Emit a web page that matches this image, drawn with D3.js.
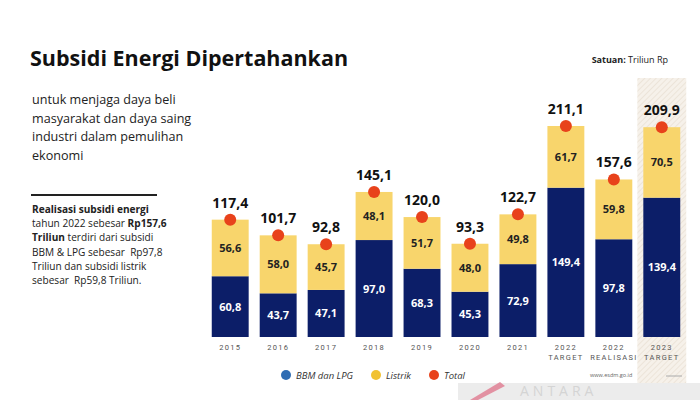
<!DOCTYPE html>
<html>
<head>
<meta charset="utf-8">
<script src="https://cdn.jsdelivr.net/npm/d3@7"></script>
<style>
body { margin: 0; background: #fff; }
svg { display: block; }
</style>
</head>
<body>
<div id="wrapper"></div>
<script>
// data
const categories = ["2015", "2016", "2017", "2018", "2019", "2020", "2021", "2022\nTARGET", "2022\nREALISASI", "2023\nTARGET"];
const bbmValues = [60.8, 43.7, 47.1, 97.0, 68.3, 45.3, 72.9, 149.4, 97.8, 139.4];
const listrikValues = [56.6, 58.0, 45.7, 48.1, 51.7, 48.0, 49.8, 61.7, 59.8, 70.5];
const totalValues = [117.4, 101.7, 92.8, 145.1, 120.0, 93.3, 122.7, 211.1, 157.6, 209.9];
const legendLabels = ["BBM dan LPG", "Listrik", "Total"];

const fmt = v => v.toFixed(1).replace(".", ",");

let dimensions = {
  width: 700,
  height: 400,
  margin: { top: 126, right: 14, bottom: 63, left: 206 },
}
dimensions.boundedWidth = dimensions.width - dimensions.margin.left - dimensions.margin.right;
dimensions.boundedHeight = dimensions.height - dimensions.margin.top - dimensions.margin.bottom;

const svg = d3.select("#wrapper").append("svg")
  .attr("width", dimensions.width)
  .attr("height", dimensions.height)
  .style("font-family", "'Open Sans', sans-serif");

// hatched background pattern for 2023 target
const defs = svg.append("defs");
const pat = defs.append("pattern")
  .attr("id", "hatch")
  .attr("width", 4).attr("height", 4)
  .attr("patternUnits", "userSpaceOnUse")
  .attr("patternTransform", "rotate(45)");
pat.append("rect").attr("width", 4).attr("height", 4).attr("fill", "#f6f1ea");
pat.append("line").attr("x1", 0).attr("y1", 0).attr("x2", 0).attr("y2", 4)
  .attr("stroke", "#e9e0d4").attr("stroke-width", 1.5);

const bounds = svg.append("g")
  .attr("transform", `translate(${dimensions.margin.left},${dimensions.margin.top})`);

const xScale = d3.scaleBand()
  .domain(categories)
  .range([0, dimensions.boundedWidth])
  .paddingInner(0.23)
  .paddingOuter(0.12);

const yScale = d3.scaleLinear()
  .domain([0, 211.1])
  .range([dimensions.boundedHeight, 0]);

// highlight band behind 2023 target
const lastCat = categories[categories.length - 1];
bounds.append("rect")
  .attr("x", xScale(lastCat) - 6)
  .attr("width", xScale.bandwidth() + 12)
  .attr("y", -48)
  .attr("height", dimensions.boundedHeight + 48 + 55)
  .attr("fill", "url(#hatch)");

// title and texts
svg.append("text")
  .attr("x", 30).attr("y", 66)
  .attr("font-size", 21.5).attr("font-weight", 700).attr("fill", "#111")
  .text("Subsidi Energi Dipertahankan");

const satuan = svg.append("text")
  .attr("x", 668).attr("y", 63)
  .attr("text-anchor", "end")
  .attr("font-size", 9).attr("fill", "#222");
satuan.append("tspan").attr("font-weight", 700).text("Satuan: ");
satuan.append("tspan").text("Triliun Rp");

const subLines = ["untuk menjaga daya beli", "masyarakat dan daya saing", "industri dalam pemulihan", "ekonomi"];
svg.append("g").selectAll("text").data(subLines).join("text")
  .attr("x", 32).attr("y", (d, i) => 104 + i * 18.5)
  .attr("font-size", 12.6).attr("fill", "#222")
  .text(d => d);

svg.append("line")
  .attr("x1", 31).attr("x2", 157).attr("y1", 195).attr("y2", 195)
  .attr("stroke", "#222").attr("stroke-width", 2);

const para = [
  [["Realisasi subsidi energi", 700]],
  [["tahun 2022 sebesar ", 400], ["Rp157,6", 700]],
  [["Triliun", 700], [" terdiri dari subsidi", 400]],
  [["BBM & LPG sebesar  Rp97,8", 400]],
  [["Triliun dan subsidi listrik", 400]],
  [["sebesar  Rp59,8 Triliun.", 400]],
];
const paraG = svg.append("g");
para.forEach((line, i) => {
  const t = paraG.append("text")
    .attr("x", 32).attr("y", 213 + i * 14.2)
    .attr("font-size", 10.1).attr("fill", "#222")
    .attr("xml:space", "preserve");
  line.forEach(([s, w]) => t.append("tspan").attr("font-weight", w).text(s));
});

const rows = categories.map((c, i) => ({ c, bbm: bbmValues[i], listrik: listrikValues[i], total: totalValues[i] }));

const navy = "#0c1e68";
const yellow = "#f8d56c";
const red = "#e8421b";

// bbm bars
bounds.append("g").selectAll("rect").data(rows).join("rect")
  .attr("x", d => xScale(d.c))
  .attr("width", xScale.bandwidth())
  .attr("y", d => yScale(d.bbm))
  .attr("height", d => dimensions.boundedHeight - yScale(d.bbm))
  .attr("fill", navy);

// listrik bars
bounds.append("g").selectAll("rect").data(rows).join("rect")
  .attr("x", d => xScale(d.c))
  .attr("width", xScale.bandwidth())
  .attr("y", d => yScale(d.bbm + d.listrik))
  .attr("height", d => yScale(d.bbm) - yScale(d.bbm + d.listrik))
  .attr("fill", yellow);

// labels inside
bounds.append("g").selectAll("text").data(rows).join("text")
  .attr("x", d => xScale(d.c) + xScale.bandwidth() / 2)
  .attr("y", d => yScale(d.bbm / 2) + 4)
  .attr("text-anchor", "middle")
  .attr("font-size", 11).attr("font-weight", 700).attr("fill", "#fff")
  .text(d => fmt(d.bbm));

bounds.append("g").selectAll("text").data(rows).join("text")
  .attr("x", d => xScale(d.c) + xScale.bandwidth() / 2)
  .attr("y", d => yScale(d.bbm + d.listrik / 2) + 4)
  .attr("text-anchor", "middle")
  .attr("font-size", 11).attr("font-weight", 700).attr("fill", "#222")
  .text(d => fmt(d.listrik));

// total dots and labels
bounds.append("g").selectAll("circle").data(rows).join("circle")
  .attr("cx", d => xScale(d.c) + xScale.bandwidth() / 2)
  .attr("cy", d => yScale(d.total))
  .attr("r", 6)
  .attr("fill", red);

bounds.append("g").selectAll("text").data(rows).join("text")
  .attr("x", d => xScale(d.c) + xScale.bandwidth() / 2)
  .attr("y", d => yScale(d.total) - 12)
  .attr("text-anchor", "middle")
  .attr("font-size", 14).attr("font-weight", 700).attr("fill", "#111")
  .text(d => fmt(d.total));

// x axis
const xAxis = bounds.append("g")
  .attr("transform", `translate(0,${dimensions.boundedHeight})`)
  .call(d3.axisBottom(xScale).tickSize(0).tickFormat(""));
xAxis.select(".domain").remove();
xAxis.selectAll(".tick").each(function(d) {
  const parts = d.split("\n");
  const t = d3.select(this).append("text")
    .attr("text-anchor", "middle")
    .attr("font-size", 7.5).attr("fill", "#555")
    .attr("letter-spacing", 1.3)
    .style("font-family", "Roboto, sans-serif");
  parts.forEach((p, i) => t.append("tspan").attr("x", 0).attr("y", 13 + i * 10).text(p));
});

// legend
const legendColors = ["#2f6db3", "#f1c232", "#e8421b"];
const legendX = [286, 376, 434];
const legend = svg.append("g").selectAll("g").data(legendLabels).join("g")
  .attr("transform", (d, i) => `translate(${legendX[i]},375)`);
legend.append("circle").attr("r", 5).attr("fill", (d, i) => legendColors[i]);
legend.append("text")
  .attr("x", 10).attr("y", 3.5)
  .attr("font-size", 9.5).attr("font-style", "italic").attr("fill", "#333")
  .text(d => d);

// footer watermark strip
svg.append("rect").attr("x", 458).attr("y", 383).attr("width", 242).attr("height", 17).attr("fill", "#ececec");
svg.append("text").attr("x", 590).attr("y", 377).attr("font-size", 5.5).attr("fill", "#666").text("www.esdm.go.id");
svg.append("line").attr("x1", 666).attr("x2", 682).attr("y1", 376).attr("y2", 376).attr("stroke", "#aaa");
svg.append("path").attr("d", "M470,400 L500,382 L505,386 L478,400 Z").attr("fill", "#e07a90").attr("opacity", 0.8);
svg.append("text").attr("x", 520).attr("y", 396).attr("font-size", 14).attr("fill", "#d4d4d4")
  .attr("letter-spacing", 4).text("ANTARA");
</script>
</body>
</html>
